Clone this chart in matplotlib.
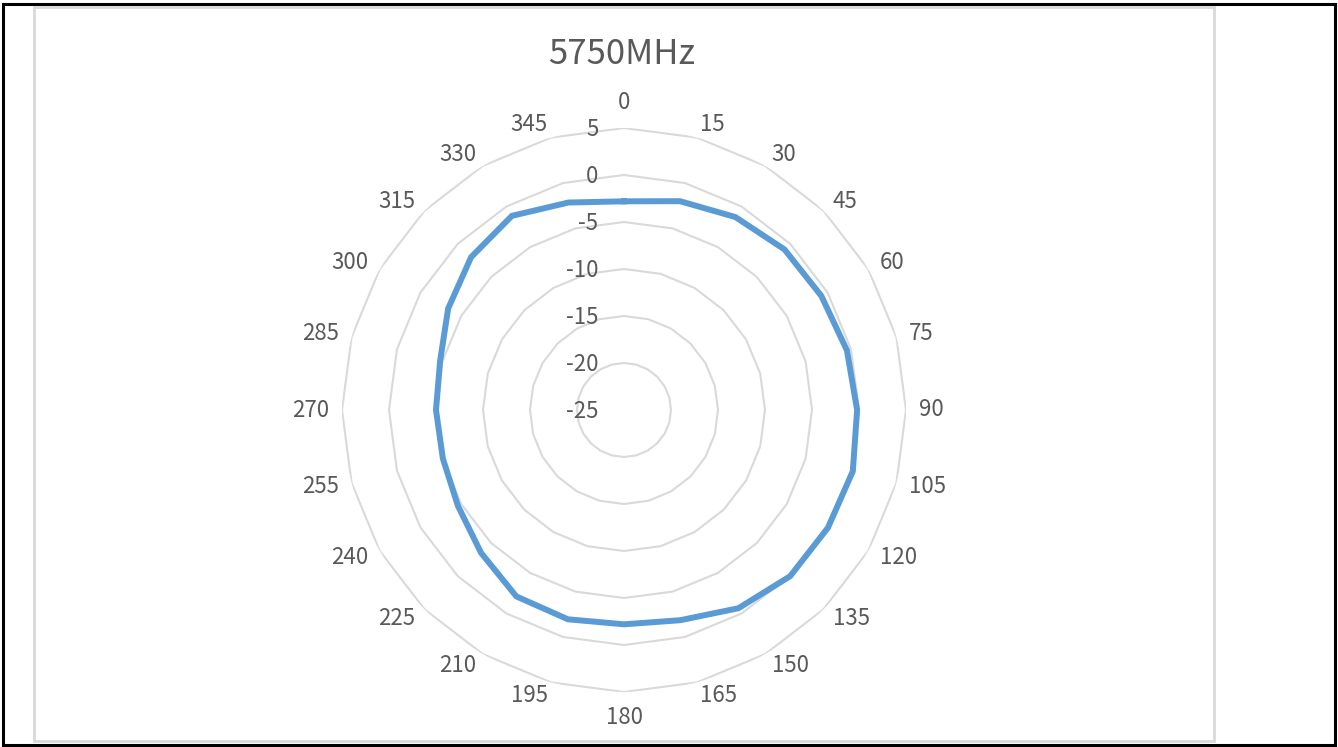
import matplotlib.pyplot as plt
import numpy as np
from matplotlib.patches import Rectangle

plt.rcParams['font.family'] = ['Noto Sans CJK SC', 'DejaVu Sans']

# data
angles = [0, 15, 30, 45, 60, 75, 90, 105, 120, 135, 150, 165,
          180, 195, 210, 225, 240, 255, 270, 285, 300, 315, 330, 345]
gain = [-2.8, -2.0, -1.3, -0.85, -0.75, -0.45, -0.2, 0.2, 0.05, 0.0, -0.65, -1.85,
        -2.2, -1.95, -2.1, -3.5, -4.6, -5.05, -5.0, -4.75, -3.4, -2.0, -1.15, -2.15]
rings = [-20, -15, -10, -5, 0, 5]
ring_labels = [-25, -20, -15, -10, -5, 0, 5]
title = '5750MHz'

text_col = '#595959'
grid_col = '#D9D9D9'
line_col = '#5B9BD5'

fig = plt.figure(figsize=(13.38, 7.47), dpi=100)

# frame: outer black border + light grey chart area
fig.add_artist(Rectangle((3 / 1338, 2 / 747), 1332 / 1338, 741 / 747, transform=fig.transFigure,
                         fill=False, edgecolor='black', linewidth=2.2))
fig.add_artist(Rectangle((34 / 1338, 6 / 747), 1180 / 1338, 734 / 747, transform=fig.transFigure,
                         fill=False, edgecolor=grid_col, linewidth=2))

cx, cy, R = 624, 410, 282
ax = fig.add_axes([(cx - R) / 1338, (747 - cy - R) / 747, 2 * R / 1338, 2 * R / 747],
                  projection='polar')
ax.set_theta_zero_location('N')
ax.set_theta_direction(-1)
ax.set_ylim(-25, 5)
ax.grid(False)
ax.set_xticks([])
ax.set_yticks([])
ax.spines['polar'].set_visible(False)
ax.patch.set_alpha(0)

th = np.deg2rad(angles)
th_closed = np.append(th, th[0])

# polygon gridlines like Excel
for r in rings:
    ax.plot(th_closed, [r] * len(th_closed), color=grid_col, lw=1.5, zorder=1)

vals = np.append(gain, gain[0])
ax.plot(th_closed, vals, color=line_col, lw=4.3, zorder=3, solid_joinstyle='miter')

# category labels, aligned away from the centre like Excel does
for a, t in zip(angles, th):
    if a in (0, 180):
        ax.text(t, 7.75, str(a), ha='center', va='center', fontsize=16,
                color=text_col, clip_on=False)
    else:
        ha = 'left' if a < 180 else 'right'
        ax.text(t, 6.4, str(a), ha=ha, va='center', fontsize=16,
                color=text_col, clip_on=False)

# value labels along the 0 spoke
for v in ring_labels:
    ax.annotate(str(v), xy=(0, v), xytext=(-18.5, -1), textcoords='offset points',
                ha='right', va='center', fontsize=16, color=text_col,
                annotation_clip=False)

fig.text(622 / 1338, 1 - 54 / 747, title, ha='center', va='center',
         fontsize=25, color=text_col)

fig.savefig('out.png', dpi=100)
